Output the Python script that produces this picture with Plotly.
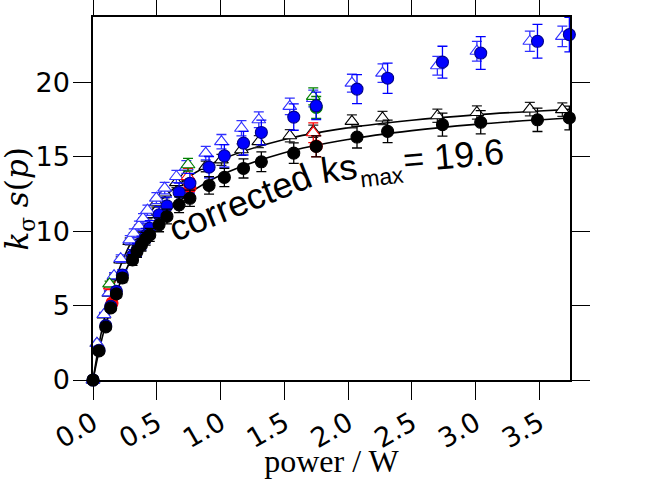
import plotly.graph_objects as go

# ---------------- data ----------------
circ_power = [0, 0.047, 0.10, 0.139, 0.183, 0.23, 0.31, 0.345, 0.38, 0.413, 0.445, 0.518, 0.58, 0.675,
              0.76, 0.91, 1.03, 1.18, 1.32, 1.574, 1.75, 2.07, 2.31, 2.74, 3.04, 3.485, 3.735]
black_circ = [0, 1.95, 3.56, 4.84, 5.78, 6.85, 8.06, 8.62, 9.07, 9.48, 9.74, 10.42, 10.98, 11.76,
              12.2, 13.06, 13.6, 14.2, 14.65, 15.23, 15.68, 16.31, 16.69, 17.14, 17.3, 17.47, 17.59]
blue_circ = [0, 2.0, 3.65, 4.95, 5.95, 7.05, 8.33, 8.74, 9.2, 9.7, 10.19, 11.09, 11.69, 12.59,
             13.21, 14.29, 15.05, 15.9, 16.62, 17.65, 18.41, 19.53, 20.26, 21.34, 21.95, 22.74, 23.19]

tri_power = [0, 0.031, 0.086, 0.125, 0.165, 0.217, 0.288, 0.32, 0.36, 0.392, 0.427, 0.497, 0.562, 0.654,
             0.732, 0.884, 1.007, 1.164, 1.30, 1.543, 1.727, 2.03, 2.27, 2.70, 3.01, 3.425, 3.68]
black_tri = [0, 2.46, 4.37, 5.82, 6.94, 8.06, 9.3, 9.65, 10.15, 10.6, 11.1, 11.9, 12.55, 13.25,
             13.75, 14.34, 14.78, 15.46, 16.0, 16.4, 16.7, 17.36, 17.59, 17.74, 17.96, 18.19, 18.15]
blue_tri = [0, 2.46, 4.4, 5.85, 7.0, 8.15, 9.41, 9.85, 10.35, 10.85, 11.4, 12.21, 12.88, 13.66,
            14.3, 15.23, 16.0, 16.9, 17.47, 18.37, 18.9, 19.93, 20.6, 21.1, 22.07, 22.74, 23.07]

red_tri_power = [0.136, 0.745, 1.727]
red_tri = [6.32, 13.66, 16.6]
green_tri_power = [0.13, 0.745, 1.727]
green_tri = [6.45, 14.45, 19.04]
red_circ_power = [0.149, 0.76, 1.75]
red_circ = [5.17, 12.9, 15.7]
green_circ_power = [1.75]
green_circ = [18.3]

# fitted curves
fit_power = [0, 0.05, 0.1, 0.2, 0.3, 0.4, 0.5, 0.75, 1.0, 1.5, 2.0, 2.5, 3.0, 3.5, 3.74]
fit_lower = [0, 2.05, 3.72, 6.25, 8.09, 9.48, 10.57, 12.49, 13.74, 15.26, 16.15, 16.74, 17.16, 17.47, 17.59]
fit_upper = [0, 2.53, 4.49, 7.32, 9.27, 10.69, 11.78, 13.62, 14.78, 16.15, 16.93, 17.44, 17.80, 18.06, 18.17]

x_ticks = [0, 0.5, 1.0, 1.5, 2.0, 2.5, 3.0, 3.5]
x_ticklabels = ["0.0", "0.5", "1.0", "1.5", "2.0", "2.5", "3.0", "3.5"]
y_ticks = [0, 5, 10, 15, 20]

# ---------------- figure ----------------
fig = go.Figure()

for fy in (fit_upper, fit_lower):
    fig.add_trace(go.Scatter(x=fit_power, y=fy, mode="lines", line=dict(color="black", width=1.6, shape="spline"),
                             showlegend=False, hoverinfo="skip"))


def add_points(x, y, symbol, fill, edge, ecolor, pct, size):
    fig.add_trace(go.Scatter(
        x=x, y=y, mode="markers",
        marker=dict(symbol=symbol, size=size, color=fill, line=dict(color=edge, width=1.1)),
        error_y=dict(type="percent", value=pct, color=ecolor, thickness=1.3, width=5),
        cliponaxis=False, showlegend=False))


add_points(tri_power, black_tri, "triangle-up", "white", "black", "#222222", 2.5, 12)
add_points(tri_power, blue_tri, "triangle-up", "white", "#3030ff", "#3030ff", 3.0, 12)
add_points(red_tri_power, red_tri, "triangle-up", "white", "red", "red", 4.0, 12)
add_points(green_tri_power, green_tri, "triangle-up", "white", "green", "green", 3.0, 12)
add_points(green_circ_power, green_circ, "circle", "green", "green", "green", 4.0, 12)
add_points(red_circ_power, red_circ, "circle", "red", "red", "red", 4.5, 12)
add_points(circ_power, blue_circ, "circle", "blue", "#00008b", "blue", 5.0, 12)
add_points(circ_power, black_circ, "circle", "black", "black", "black", 4.5, 12)

ann_font = dict(family="Liberation Sans, Arial", size=36, color="black")
sub_font = dict(family="Liberation Sans, Arial", size=23, color="black")
annotations = [
    dict(x=1.15, y=11.93, text="corrected", textangle=-22, font=ann_font),
    dict(x=1.925, y=14.18, text="ks", textangle=-8, font=ann_font),
    dict(x=2.265, y=13.64, text="max", textangle=-7, font=sub_font),
    dict(x=2.83, y=15.09, text="= 19.6", textangle=-5, font=ann_font),
]
for a in annotations:
    a.update(xref="x", yref="y", showarrow=False, xanchor="center", yanchor="middle")

# y-axis title placed as a rotated annotation for exact centring
annotations.append(dict(
    xref="paper", yref="paper", x=-0.153, y=0.497, xanchor="center", yanchor="middle",
    text="<i>k</i><sub>σ</sub> <i>s</i>(<i>p</i>)", textangle=-90, showarrow=False,
    font=dict(family="DejaVu Serif", size=31, color="black")))

axis_common = dict(
    showline=True, linecolor="black", linewidth=1.5, mirror="allticks",
    ticks="outside", ticklen=18, tickwidth=1, tickcolor="black",
    showgrid=False, zeroline=False, automargin=False,
    tickfont=dict(family="DejaVu Sans", size=27, color="black"),
)

fig.update_layout(
    width=664, height=479,
    margin=dict(l=93, r=94, t=17, b=99),
    plot_bgcolor="white", paper_bgcolor="white",
    annotations=annotations,
    xaxis=dict(range=[0, 3.74], tickvals=x_ticks, ticktext=x_ticklabels, tickangle=-30,
               ticklabelstandoff=-3,
               title=dict(text="power / W", font=dict(family="Liberation Serif", size=32, color="black"),
                          standoff=2),
               **axis_common),
    yaxis=dict(range=[0, 24.37], tickvals=y_ticks, ticklabelstandoff=-2, **axis_common),
)

fig.write_html("out.html", config={"displayModeBar": False},
               post_script="document.body.style.margin='0px';document.body.style.overflow='hidden';")
